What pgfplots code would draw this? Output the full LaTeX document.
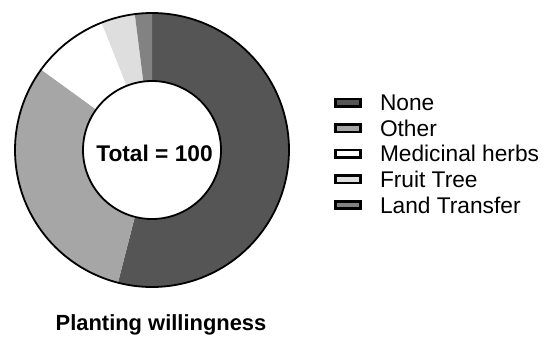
\documentclass[border=0pt]{standalone}
\usepackage{pgfplots}
\usepackage{pgfplotstable}
\pgfplotsset{compat=1.18}
\usepackage{fontspec}
\setmainfont{Liberation Sans}
\definecolor{cNone}{HTML}{555555}
\definecolor{cOther}{HTML}{A6A6A6}
\definecolor{cMed}{HTML}{FFFFFF}
\definecolor{cFruit}{HTML}{DEDEDE}
\definecolor{cLand}{HTML}{828282}

\pgfplotstableread{
seg value
None 54
Other 31
Medicinal 9
Fruit 4
Land 2
}\datatable

\pgfplotstablegetelem{0}{value}\of\datatable \let\vA\pgfplotsretval
\pgfplotstablegetelem{1}{value}\of\datatable \let\vB\pgfplotsretval
\pgfplotstablegetelem{2}{value}\of\datatable \let\vC\pgfplotsretval
\pgfplotstablegetelem{3}{value}\of\datatable \let\vD\pgfplotsretval
\pgfplotstablegetelem{4}{value}\of\datatable \let\vE\pgfplotsretval
\pgfmathsetmacro\tot{\vA+\vB+\vC+\vD+\vE}
\pgfmathsetmacro\aA{\vA/\tot*360}
\pgfmathsetmacro\aB{(\vA+\vB)/\tot*360}
\pgfmathsetmacro\aC{(\vA+\vB+\vC)/\tot*360}
\pgfmathsetmacro\aD{(\vA+\vB+\vC+\vD)/\tot*360}

\def\cx{152}
\def\cy{150}
\def\R{137}
\def\r{69}

\begin{document}
\begin{tikzpicture}
\begin{axis}[
  x=1bp, y=1bp, y dir=reverse,
  xmin=0, xmax=550, ymin=0, ymax=343,
  scale only axis, hide axis, clip=false,
  legend cell align=left,
  legend image code/.code={\draw[#1, draw=black, line width=2.6bp] (1.3bp,-3.7bp) rectangle (26.7bp,3.7bp);},
  legend style={at={(axis cs:334,94.5)}, anchor=north west, draw=none, fill=none,
    inner sep=0pt, outer sep=0pt,
    font=\fontsize{22.8}{26}\selectfont,
    nodes={inner sep=0pt, text height=16.2bp, text depth=0pt},
    cells={anchor=west}, row sep=9.4bp,
    /tikz/every odd column/.append style={column sep=18bp}},
]
\path (axis cs:0,0) rectangle (axis cs:550,343);
\addplot[fill=cNone, draw=none, domain=0:\aA, samples=120] ({\cx+\R*sin(x)},{\cy-\R*cos(x)}) -- (axis cs:\cx,\cy) -- cycle;
\addlegendentry{None}
\addplot[fill=cOther, draw=none, domain=\aA:\aB, samples=80] ({\cx+\R*sin(x)},{\cy-\R*cos(x)}) -- (axis cs:\cx,\cy) -- cycle;
\addlegendentry{Other}
\addplot[fill=cMed, draw=none, domain=\aB:\aC, samples=30] ({\cx+\R*sin(x)},{\cy-\R*cos(x)}) -- (axis cs:\cx,\cy) -- cycle;
\addlegendentry{Medicinal herbs}
\addplot[fill=cFruit, draw=none, domain=\aC:\aD, samples=20] ({\cx+\R*sin(x)},{\cy-\R*cos(x)}) -- (axis cs:\cx,\cy) -- cycle;
\addlegendentry{Fruit Tree}
\addplot[fill=cLand, draw=none, domain=\aD:360, samples=10] ({\cx+\R*sin(x)},{\cy-\R*cos(x)}) -- (axis cs:\cx,\cy) -- cycle;
\addlegendentry{Land Transfer}
\addplot[fill=white, draw=black, line width=1.8bp, domain=0:360, samples=180, forget plot] ({\cx+\r*sin(x)},{\cy-\r*cos(x)}) -- cycle;
\addplot[draw=black, line width=1.8bp, domain=0:360, samples=240, forget plot] ({\cx+\R*sin(x)},{\cy-\R*cos(x)}) -- cycle;
\node[anchor=base, font=\bfseries\fontsize{22.8}{26}\selectfont, inner sep=0pt] at (axis cs:154.5,161) {Total = 100};
\node[anchor=base, font=\bfseries\fontsize{22}{26}\selectfont, inner sep=0pt] at (axis cs:161,330) {Planting willingness};
\end{axis}
\end{tikzpicture}
\end{document}
